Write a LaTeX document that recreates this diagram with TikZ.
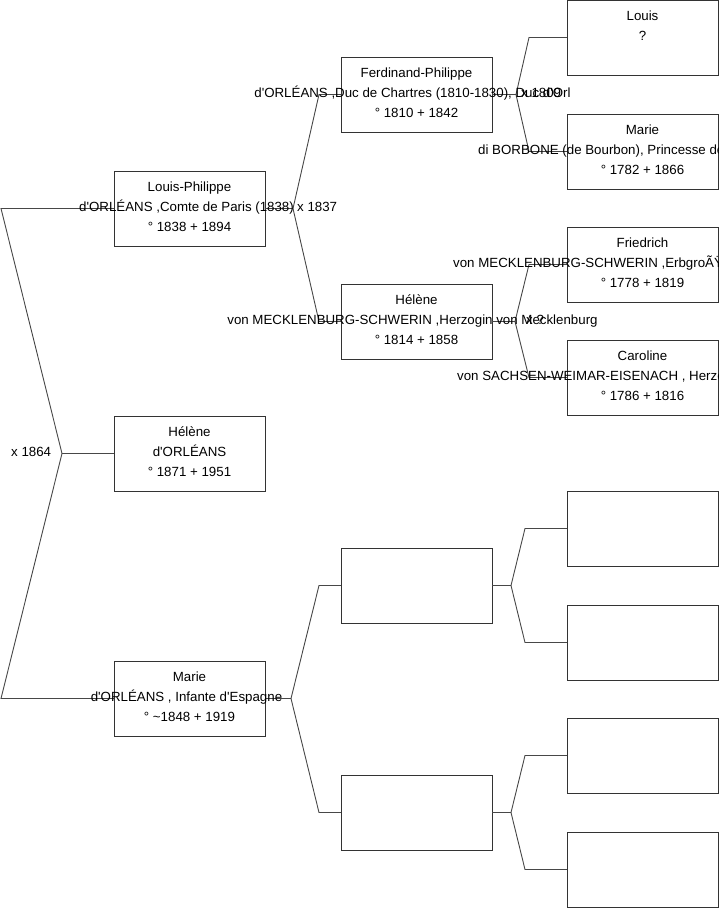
\documentclass[tikz,border=0pt]{standalone}
\usepackage{fontspec}
\setmainfont{Liberation Sans}[Ligatures=TeXOff]
\begin{document}
\begin{tikzpicture}[x=1pt,y=-1pt,
  pbox/.style={draw=black!80, line width=0.9pt, fill=white, minimum width=151pt, minimum height=75pt, inner sep=0pt, outer sep=0pt, anchor=north west},
  conn/.style={draw=black!72, line width=0.9pt},
  txt/.style={font=\fontsize{13.3}{15}\selectfont, inner sep=0pt, anchor=base},
  ltxt/.style={font=\fontsize{13.3}{15}\selectfont, inner sep=0pt, anchor=base west}]
\useasboundingbox (0,0) rectangle (719,908);
\clip (0,0) rectangle (719,908);
% boxes column 1
\node[pbox] (lp) at (114,171) {};
\node[pbox] (he) at (114,416) {};
\node[pbox] (ma) at (114,661) {};
% column 2
\node[pbox] (fp) at (341,57) {};
\node[pbox] (hm) at (341,284) {};
\node[pbox] (e1) at (341,548) {};
\node[pbox] (e2) at (341,775) {};
% column 3
\node[pbox] (lo) at (567,0) {};
\node[pbox] (mb) at (567,114) {};
\node[pbox] (fr) at (567,227) {};
\node[pbox] (ca) at (567,340) {};
\node[pbox] (e3) at (567,491) {};
\node[pbox] (e4) at (567,605) {};
\node[pbox] (e5) at (567,718) {};
\node[pbox] (e6) at (567,832) {};
% fork coordinates
\coordinate (f0) at (62,453.5);
\coordinate (f0a) at (1,208.5);
\coordinate (f0b) at (1,698.5);
\coordinate (f1) at (293,208.5);
\coordinate (f1a) at (319,94.5);
\coordinate (f1b) at (319,321.5);
\coordinate (f2) at (291,698.5);
\coordinate (f2a) at (319,585.5);
\coordinate (f2b) at (319,812.5);
\coordinate (f3) at (516,94.5);
\coordinate (f3a) at (529,37.5);
\coordinate (f3b) at (529,151.5);
\coordinate (f4) at (515,321.5);
\coordinate (f4a) at (529,264.5);
\coordinate (f4b) at (529,377.5);
\coordinate (f5) at (511,585.5);
\coordinate (f5a) at (525,528.5);
\coordinate (f5b) at (525,642.5);
\coordinate (f6) at (511,812.5);
\coordinate (f6a) at (525,755.5);
\coordinate (f6b) at (525,869.5);
% connectors
\draw[conn] (he.west) -- (f0);
\draw[conn] (lp.west) -- (f0a) -- (f0) -- (f0b) -- (ma.west);
\draw[conn] (lp.east) -- (f1);
\draw[conn] (fp.west) -- (f1a) -- (f1) -- (f1b) -- (hm.west);
\draw[conn] (ma.east) -- (f2);
\draw[conn] (e1.west) -- (f2a) -- (f2) -- (f2b) -- (e2.west);
\draw[conn] (fp.east) -- (f3);
\draw[conn] (lo.west) -- (f3a) -- (f3) -- (f3b) -- (mb.west);
\draw[conn] (hm.east) -- (f4);
\draw[conn] (fr.west) -- (f4a) -- (f4) -- (f4b) -- (ca.west);
\draw[conn] (e1.east) -- (f5);
\draw[conn] (e3.west) -- (f5a) -- (f5) -- (f5b) -- (e4.west);
\draw[conn] (e2.east) -- (f6);
\draw[conn] (e5.west) -- (f6a) -- (f6) -- (f6b) -- (e6.west);
% texts column 1
\node[txt] (lp1) at ([yshift=-20pt]lp.north) {Louis-Philippe};
\node[txt] (lp2) at ([xshift=-3pt,yshift=-40pt]lp.north) {d'ORLÉANS ,Comte de Paris (1838)};
\node[txt] (lp3) at ([yshift=-60pt]lp.north) {° 1838 + 1894};
\node[txt] (he1) at ([yshift=-20pt]he.north) {Hélène};
\node[txt] (he2) at ([yshift=-40pt]he.north) {d'ORLÉANS};
\node[txt] (he3) at ([yshift=-60pt]he.north) {° 1871 + 1951};
\node[txt] (ma1) at ([yshift=-20pt]ma.north) {Marie};
\node[txt] (ma2) at ([xshift=-3pt,yshift=-40pt]ma.north) {d'ORLÉANS , Infante d'Espagne};
\node[txt] (ma3) at ([yshift=-60pt]ma.north) {° \textasciitilde 1848 + 1919};
% column 2
\node[txt] (fp1) at ([yshift=-20pt]fp.north) {Ferdinand-Philippe};
\node[txt] (fp2) at ([xshift=-4pt,yshift=-40pt]fp.north) {d'ORLÉANS ,Duc de Chartres (1810-1830), Duc d'Orl};
\node[txt] (fp3) at ([yshift=-60pt]fp.north) {° 1810 + 1842};
\node[txt] (hm1) at ([yshift=-20pt]hm.north) {Hélène};
\node[txt] (hm2) at ([xshift=-4pt,yshift=-40pt]hm.north) {von MECKLENBURG-SCHWERIN ,Herzogin von Mecklenburg};
\node[txt] (hm3) at ([yshift=-60pt]hm.north) {° 1814 + 1858};
% column 3
\node[txt] (lo1) at ([yshift=-20pt]lo.north) {Louis};
\node[txt] (lo2) at ([yshift=-40pt]lo.north) {?};
\node[txt] (mb1) at ([yshift=-20pt]mb.north) {Marie};
\node[ltxt] (mb2) at (478,154) {di BORBONE (de Bourbon), Princesse de};
\node[txt] (mb3) at ([yshift=-60pt]mb.north) {° 1782 + 1866};
\node[txt] (fr1) at ([yshift=-20pt]fr.north) {Friedrich};
\node[ltxt] (fr2) at (453,267) {von MECKLENBURG-SCHWERIN ,ErbgroÃŸ};
\node[txt] (fr3) at ([yshift=-60pt]fr.north) {° 1778 + 1819};
\node[txt] (ca1) at ([yshift=-20pt]ca.north) {Caroline};
\node[ltxt] (ca2) at (457,380) {von SACHSEN-WEIMAR-EISENACH , Herzo};
\node[txt] (ca3) at ([yshift=-60pt]ca.north) {° 1786 + 1816};
% marriage labels
\node[ltxt] (m0) at (11,456.5) {x 1864};
\node[ltxt] (m1) at (297,211.5) {x 1837};
\node[ltxt] (m3) at (521,97.5) {x 1809};
\node[ltxt] (m4) at (526,324.5) {x ?};
\end{tikzpicture}
\end{document}
